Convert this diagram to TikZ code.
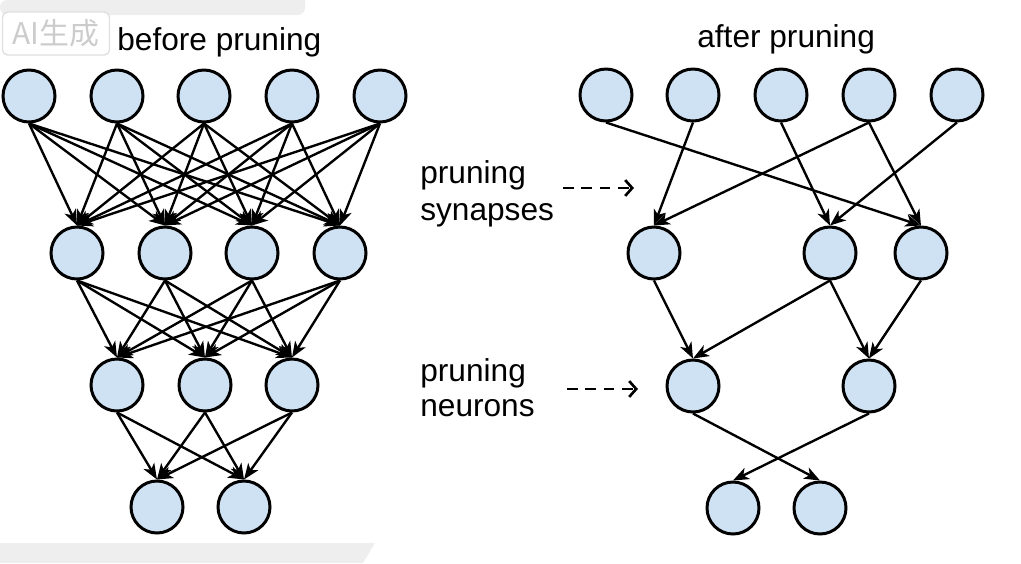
\documentclass[tikz,border=0pt]{standalone}
\usepackage{fontspec}
\setmainfont{Liberation Sans}
\newfontfamily\cjkfont{Noto Sans CJK SC}
\usepackage{tikz}
\usetikzlibrary{arrows.meta}
\definecolor{neuronblue}{RGB}{207,226,243}
\definecolor{bandgray}{RGB}{238,238,238}

\begin{document}
\begin{tikzpicture}[scale=0.2]
\tikzstyle{every node}+=[inner sep=0pt]
\tikzstyle{neuron}=[circle, draw=black, line width=1.7pt, fill=neuronblue, minimum size=1.04cm]
\tikzstyle{syn}=[line width=1.35pt, -{Stealth[length=9pt,width=7pt,inset=2.5pt]}]
\tikzstyle{dasharrow}=[line width=1.5pt, dash pattern=on 6pt off 4.5pt, -{Straight Barb[length=4pt,width=9pt]}]
\tikzstyle{lbl}=[font=\fontsize{18}{21}\selectfont, anchor=base west]
\useasboundingbox (0,0) rectangle (102.1,-56.3);
\fill [bandgray] (0,0) -- (30.5,0) -- (30.5,-0.8) [rounded corners=4pt] -- (30.5,-1.5) -- (0,-1.5) -- cycle;
\fill [bandgray] (0,-54.3) -- (37.5,-54.3) -- (36.3,-56.3) -- (0,-56.3) -- cycle;
\node [draw=black!12, line width=0.8pt, rounded corners=3pt, fill=white, minimum width=2.14cm, minimum height=0.86cm, text=black!20, font=\cjkfont\fontsize{17}{17}\selectfont] (wm) at (5.6,-3.35) {AI生成};
% left: before pruning
\node [lbl] (tbefore) at (11.7,-5.0) {before pruning};
\node [neuron] (a1) at (2.9,-9.6) {};
\node [neuron] (a2) at (11.7,-9.6) {};
\node [neuron] (a3) at (20.4,-9.6) {};
\node [neuron] (a4) at (29.2,-9.6) {};
\node [neuron] (a5) at (38.0,-9.6) {};
\node [neuron] (b1) at (7.7,-25.3) {};
\node [neuron] (b2) at (16.5,-25.3) {};
\node [neuron] (b3) at (25.2,-25.3) {};
\node [neuron] (b4) at (34.0,-25.3) {};
\node [neuron] (c1) at (11.7,-38.5) {};
\node [neuron] (c2) at (20.5,-38.5) {};
\node [neuron] (c3) at (29.2,-38.5) {};
\node [neuron] (d1) at (15.7,-50.7) {};
\node [neuron] (d2) at (24.4,-50.7) {};
\draw [syn] (a1.south) -- (b1.north);
\draw [syn] (a1.south) -- (b2.north);
\draw [syn] (a1.south) -- (b3.north);
\draw [syn] (a1.south) -- (b4.north);
\draw [syn] (a2.south) -- (b1.north);
\draw [syn] (a2.south) -- (b2.north);
\draw [syn] (a2.south) -- (b3.north);
\draw [syn] (a2.south) -- (b4.north);
\draw [syn] (a3.south) -- (b1.north);
\draw [syn] (a3.south) -- (b2.north);
\draw [syn] (a3.south) -- (b3.north);
\draw [syn] (a3.south) -- (b4.north);
\draw [syn] (a4.south) -- (b1.north);
\draw [syn] (a4.south) -- (b2.north);
\draw [syn] (a4.south) -- (b3.north);
\draw [syn] (a4.south) -- (b4.north);
\draw [syn] (a5.south) -- (b1.north);
\draw [syn] (a5.south) -- (b2.north);
\draw [syn] (a5.south) -- (b3.north);
\draw [syn] (a5.south) -- (b4.north);
\draw [syn] (b1.south) -- (c1.north);
\draw [syn] (b1.south) -- (c2.north);
\draw [syn] (b1.south) -- (c3.north);
\draw [syn] (b2.south) -- (c1.north);
\draw [syn] (b2.south) -- (c2.north);
\draw [syn] (b2.south) -- (c3.north);
\draw [syn] (b3.south) -- (c1.north);
\draw [syn] (b3.south) -- (c2.north);
\draw [syn] (b3.south) -- (c3.north);
\draw [syn] (b4.south) -- (c1.north);
\draw [syn] (b4.south) -- (c2.north);
\draw [syn] (b4.south) -- (c3.north);
\draw [syn] (c1.south) -- (d1.north);
\draw [syn] (c1.south) -- (d2.north);
\draw [syn] (c2.south) -- (d1.north);
\draw [syn] (c2.south) -- (d2.north);
\draw [syn] (c3.south) -- (d1.north);
\draw [syn] (c3.south) -- (d2.north);
% middle labels
\node [lbl] (syn1) at (42.0,-18.3) {pruning};
\node [lbl] (syn2) at (42.0,-22.0) {synapses};
\node [lbl] (neu1) at (42.0,-38.1) {pruning};
\node [lbl] (neu2) at (42.0,-41.6) {neurons};
\coordinate (ds1) at (56.3,-18.8);
\coordinate (de1) at (63.4,-18.8);
\coordinate (ds2) at (56.7,-38.9);
\coordinate (de2) at (63.8,-38.9);
\draw [dasharrow] (ds1) -- (de1);
\draw [dasharrow] (ds2) -- (de2);
% right: after pruning
\node [lbl] (tafter) at (69.7,-4.7) {after pruning};
\node [neuron] (p1) at (60.6,-9.5) {};
\node [neuron] (p2) at (69.3,-9.5) {};
\node [neuron] (p3) at (78.1,-9.5) {};
\node [neuron] (p4) at (86.9,-9.5) {};
\node [neuron] (p5) at (95.7,-9.5) {};
\node [neuron] (q1) at (65.4,-25.3) {};
\node [neuron] (q2) at (83.0,-25.3) {};
\node [neuron] (q3) at (92.1,-25.3) {};
\node [neuron] (r1) at (69.3,-38.6) {};
\node [neuron] (r2) at (86.9,-38.6) {};
\node [neuron] (s1) at (73.3,-50.8) {};
\node [neuron] (s2) at (82.0,-50.8) {};
\draw [syn] (p1.south) -- (q3.north);
\draw [syn] (p2.south) -- (q1.north);
\draw [syn] (p3.south) -- (q2.north);
\draw [syn] (p4.south) -- (q1.north);
\draw [syn] (p4.south) -- (q3.north);
\draw [syn] (p5.south) -- (q2.north);
\draw [syn] (q1.south) -- (r1.north);
\draw [syn] (q2.south) -- (r1.north);
\draw [syn] (q2.south) -- (r2.north);
\draw [syn] (q3.south) -- (r2.north);
\draw [syn] (r1.south) -- (s2.north);
\draw [syn] (r2.south) -- (s1.north);
\end{tikzpicture}
\end{document}
